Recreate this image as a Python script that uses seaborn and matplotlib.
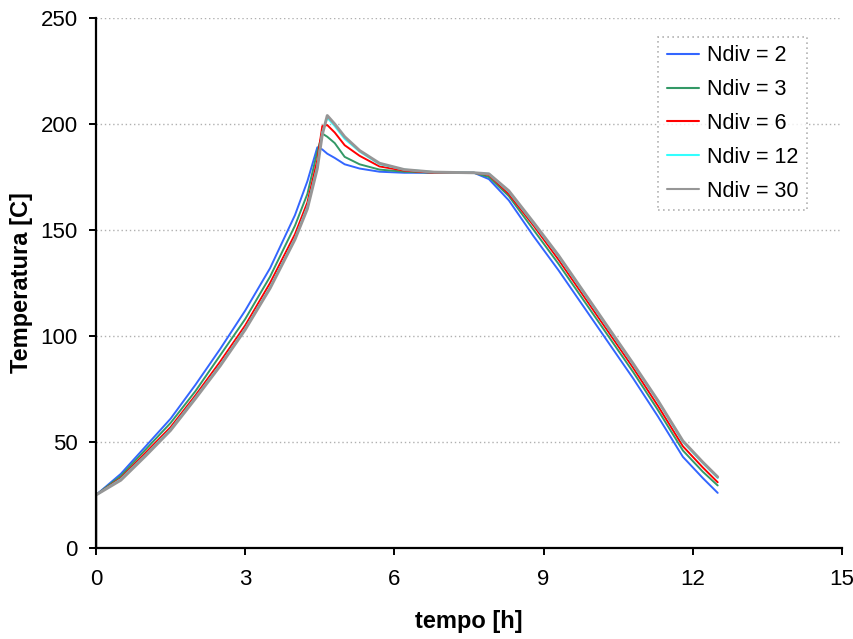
import numpy as np
import pandas as pd
import matplotlib
matplotlib.use("Agg")
import matplotlib.pyplot as plt
import seaborn as sns

# =========================
# DATA
# =========================
tempo = [0.0, 0.0, 0.5, 1.0, 1.5, 2.0, 2.5, 3.0, 3.5, 4.0, 4.25, 4.45, 4.55,
         4.65, 4.8, 5.0, 5.3, 5.7, 6.2, 6.8, 7.6, 7.9, 8.3, 8.8, 9.3, 9.8,
         10.3, 10.8, 11.3, 11.8, 12.2, 12.5]

temp_ndiv2 = [0, 25, 35, 48, 61, 77, 94, 112, 132, 157, 173, 189, 188,
              186, 184, 181, 179, 177.5, 177, 177, 177, 174, 164, 147, 131, 114,
              97, 80, 62, 43, 33, 26]
temp_ndiv3 = [0, 25, 34, 46.5, 59, 74, 91, 108, 128, 152, 167, 187, 195.5,
              194, 191, 184.5, 181, 178.5, 177.5, 177, 177, 175, 166, 150, 134, 117,
              100, 83, 65, 46, 36, 29.5]
temp_ndiv6 = [0, 25, 33, 45, 57, 72, 88, 105, 125, 148, 163, 183, 199,
              199.5, 196, 190, 185, 180, 178, 177, 177, 176, 167, 152, 136, 119,
              102, 85, 67, 48, 38, 31]
temp_ndiv12 = [0, 25, 32.5, 44, 56, 71, 86.5, 103.5, 123, 146, 161, 180, 196,
               203, 199, 193, 187, 181, 178.5, 177.3, 177, 176.5, 168, 153, 137.5, 120.5,
               103.5, 86.5, 69, 50, 40, 33]
temp_ndiv30 = [0, 25, 32, 43.5, 55.5, 70.5, 86, 103, 122.5, 145.5, 160, 179, 195,
               204, 200, 194, 187.5, 181.5, 178.5, 177.3, 177, 176.5, 168.5, 153.5, 138, 121,
               104, 87, 69.5, 50.5, 40.5, 33.5]

series_labels = ["Ndiv = 2", "Ndiv = 3", "Ndiv = 6", "Ndiv = 12", "Ndiv = 30"]
series_values = [temp_ndiv2, temp_ndiv3, temp_ndiv6, temp_ndiv12, temp_ndiv30]
colors = ["#3366ff", "#339966", "#ff0000", "#33ffff", "#969696"]

x_ticks = [0, 3, 6, 9, 12, 15]
y_ticks = [0, 50, 100, 150, 200, 250]

rows = []
for lab, vals in zip(series_labels, series_values):
    for t, v in zip(tempo, vals):
        rows.append((t, v, lab))
df = pd.DataFrame(rows, columns=["tempo", "temp", "serie"])

# =========================
# PLOT
# =========================
sns.set_style("white")
plt.rcParams["font.family"] = ["Liberation Sans", "DejaVu Sans"]
plt.rcParams["text.color"] = "black"
plt.rcParams["axes.labelcolor"] = "black"
plt.rcParams["xtick.color"] = "black"
plt.rcParams["ytick.color"] = "black"

fig = plt.figure(figsize=(8.54, 6.39), dpi=100)
ax = fig.add_axes([0.1124, 0.1424, 0.8736, 0.8294])

sns.lineplot(data=df, x="tempo", y="temp", hue="serie", hue_order=series_labels,
             palette=colors, sort=False, estimator=None, linewidth=1.4, ax=ax)

# thicker gray line like the original
for line in ax.get_lines():
    if matplotlib.colors.to_hex(line.get_color()) == "#969696":
        line.set_linewidth(2.1)

ax.set_xlim(0, 15)
ax.set_ylim(0, 250)
ax.set_xticks(x_ticks)
ax.set_yticks(y_ticks)
ax.tick_params(axis="both", labelsize=16, direction="out", length=5,
               width=1.4, color="black", labelcolor="black",
               left=True, bottom=True, pad=8)
ax.tick_params(axis="x", pad=10)

ax.yaxis.grid(True, linestyle=(0, (1, 2)), color="#b0b0b0", linewidth=1.0)
ax.xaxis.grid(False)
ax.set_axisbelow(True)

for side in ["top", "right"]:
    ax.spines[side].set_visible(False)
for side in ["left", "bottom"]:
    ax.spines[side].set_color("black")
    ax.spines[side].set_linewidth(1.6)

ax.set_xlabel("tempo [h]", fontsize=17, fontweight="bold", color="black")
ax.set_ylabel("Temperatura [C]", fontsize=17, fontweight="bold", color="black")
ax.xaxis.set_label_coords(0.5, -0.117)
ax.yaxis.set_label_coords(-0.085, 0.5)

leg = ax.legend(loc="upper right", bbox_to_anchor=(0.953, 0.965), fontsize=15.5,
                frameon=True, fancybox=False, handlelength=1.5, handletextpad=0.35,
                labelspacing=0.6, borderpad=0.4, borderaxespad=0)
frame = leg.get_frame()
frame.set_edgecolor("#a0a0a0")
frame.set_linestyle((0, (1, 2)))
frame.set_linewidth(1.2)
for txt in leg.get_texts():
    txt.set_color("black")
for h in leg.get_lines():
    h.set_linewidth(1.5)

plt.savefig("out.png", dpi=100)
